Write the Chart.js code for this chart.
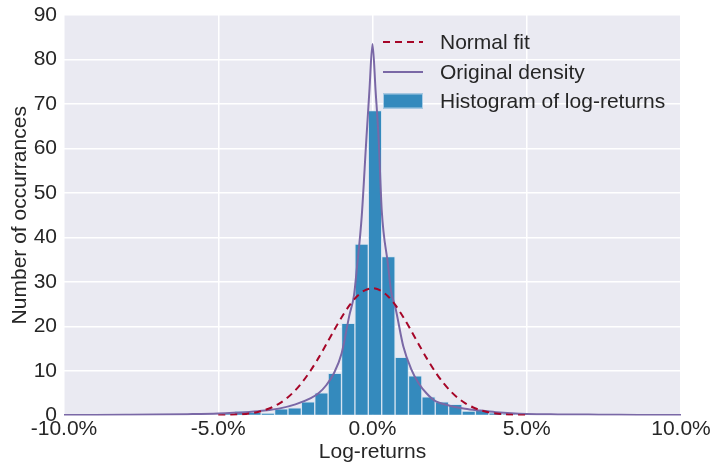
<!DOCTYPE html>
<html>
<head>
<meta charset="utf-8">
<script src="https://cdn.jsdelivr.net/npm/chart.js@4.4.1/dist/chart.umd.min.js"></script>
<style>
html,body{margin:0;padding:0;background:#ffffff;}
#wrap{width:710px;height:469px;position:relative;}
</style>
</head>
<body>
<div id="wrap"><canvas id="c" width="710" height="469"></canvas></div>
<script>
// Histogram bins (centers in %, heights)
const binCenters = [-4.693,-4.259,-3.825,-3.391,-2.957,-2.523,-2.089,-1.655,-1.221,-0.787,-0.353,0.081,0.515,0.949,1.383,1.817,2.251,2.685,3.119,3.553,3.987,4.421];
const binHeights = [0.3,1.0,0.7,0.5,1.5,1.75,3.1,5.1,9.5,20.7,38.5,68.5,35.7,13.1,8.9,4.2,3.1,2.5,1.0,1.2,0.6,0.2];

// Normal fit curve
const normalX = [-5.0,-4.75,-4.5,-4.25,-4.0,-3.75,-3.5,-3.25,-3.0,-2.75,-2.5,-2.25,-2.0,-1.75,-1.5,-1.25,-1.0,-0.75,-0.5,-0.25,0,0.25,0.5,0.75,1.0,1.25,1.5,1.75,2.0,2.25,2.5,2.75,3.0,3.25,3.5,3.75,4.0,4.25,4.5,4.75,5.0];
const normalY = [0.04,0.08,0.15,0.27,0.46,0.75,1.2,1.86,2.79,4.04,5.68,7.72,10.16,12.95,15.98,19.09,22.08,24.73,26.81,28.14,28.6,28.14,26.81,24.73,22.08,19.09,15.98,12.95,10.16,7.72,5.68,4.04,2.79,1.86,1.2,0.75,0.46,0.27,0.15,0.08,0.04];

// Original density curve
const densX = [-10,-9,-8,-7,-6,-5,-4.5,-4,-3.5,-3,-2.5,-2,-1.75,-1.5,-1.25,-1.0,-0.75,-0.6,-0.5,-0.35,-0.2,-0.1,0,0.1,0.2,0.3,0.5,0.6,0.75,1.0,1.25,1.5,1.75,2.0,2.5,3.0,3.5,4.0,4.5,5,6,7,8,9,10];
const densY = [0.1,0.12,0.15,0.2,0.3,0.45,0.6,0.8,1.1,1.6,2.5,3.9,5.0,6.8,9.5,14,22.5,27,33.5,44.7,62,73,83.5,73,62,46,34,28,24,15.5,10.5,7.2,5.0,3.4,2.2,1.5,1.1,0.75,0.5,0.35,0.25,0.2,0.15,0.12,0.1];

// Axis ticks
const xTicks = [-10,-5,0,5,10];
const yTicks = [0,10,20,30,40,50,60,70,80,90];

const seriesNames = ['Normal fit','Original density','Histogram of log-returns'];

const FONT = '"Liberation Sans", Arial, sans-serif';
const FS = 21;
const TXT = '#262626';

const bgPlugin = {
  id: 'bg',
  beforeDraw(chart) {
    const {ctx, chartArea:a} = chart;
    ctx.save();
    ctx.fillStyle = '#EAEAF2';
    ctx.fillRect(a.left, a.top, a.right - a.left, a.bottom - a.top);
    ctx.restore();
  }
};

const legendPlugin = {
  id: 'customLegend',
  afterDatasetsDraw(chart) {
    const ctx = chart.ctx;
    ctx.save();
    const x0 = 383, x1 = 423, tx = 440;
    const rows = [42, 72, 101];
    ctx.font = FS + 'px ' + FONT;
    ctx.textBaseline = 'middle';
    // Normal fit
    ctx.strokeStyle = '#A60628';
    ctx.lineWidth = 2;
    ctx.setLineDash([7,5]);
    ctx.beginPath(); ctx.moveTo(x0, rows[0]); ctx.lineTo(x1, rows[0]); ctx.stroke();
    ctx.setLineDash([]);
    // Original density
    ctx.strokeStyle = '#7A68A6';
    ctx.beginPath(); ctx.moveTo(x0, rows[1]); ctx.lineTo(x1, rows[1]); ctx.stroke();
    // Histogram
    ctx.fillStyle = '#348ABD';
    ctx.fillRect(x0, rows[2] - 7.5, x1 - x0, 15);
    ctx.strokeStyle = 'rgba(200,220,240,0.8)';
    ctx.lineWidth = 1;
    ctx.strokeRect(x0 + 0.5, rows[2] - 7, x1 - x0 - 1, 14);
    ctx.fillStyle = TXT;
    for (let i = 0; i < 3; i++) ctx.fillText(seriesNames[i], tx, rows[i] + 1);
    ctx.restore();
  }
};

new Chart(document.getElementById('c'), {
  type: 'bar',
  data: {
    datasets: [
      {
        type: 'line',
        label: seriesNames[0],
        data: normalX.map((x, i) => ({x, y: normalY[i]})),
        borderColor: '#A60628',
        borderWidth: 2,
        borderDash: [7,5],
        pointRadius: 0,
        tension: 0.3,
        order: 1
      },
      {
        type: 'line',
        label: seriesNames[1],
        data: densX.map((x, i) => ({x, y: densY[i]})),
        borderColor: '#7A68A6',
        borderWidth: 2,
        pointRadius: 0,
        cubicInterpolationMode: 'monotone',
        order: 2
      },
      {
        type: 'bar',
        label: seriesNames[2],
        data: binCenters.map((x, i) => ({x, y: binHeights[i]})),
        backgroundColor: '#348ABD',
        borderColor: 'rgba(210,225,240,0.75)',
        borderWidth: 1,
        barPercentage: 1,
        categoryPercentage: 1,
        order: 3
      }
    ]
  },
  options: {
    responsive: false,
    animation: false,
    layout: { padding: { top: 15, right: 29, left: 0, bottom: 0 } },
    plugins: { legend: { display: false }, tooltip: { enabled: false } },
    scales: {
      x: {
        type: 'linear',
        min: -10, max: 10,
        offset: false,
        afterBuildTicks(scale) { scale.ticks = xTicks.map(v => ({value: v})); },
        afterFit(scale) { scale.height = 53.5; scale.paddingLeft = 0; scale.paddingRight = 0; },
        ticks: {
          callback: v => v.toFixed(1) + '%',
          font: { family: FONT, size: FS },
          color: TXT,
          padding: 1,
          maxRotation: 0,
          autoSkip: false
        },
        grid: { color: '#FFFFFF', lineWidth: 1.5, drawTicks: false, offset: false },
        border: { display: false },
        title: {
          display: true,
          text: 'Log-returns',
          font: { family: FONT, size: FS },
          color: TXT,
          padding: { top: 0, bottom: 4 }
        }
      },
      y: {
        min: 0, max: 90,
        afterBuildTicks(scale) { scale.ticks = yTicks.map(v => ({value: v})); },
        afterFit(scale) { scale.width = 64; scale.paddingTop = 0; scale.paddingBottom = 0; },
        ticks: {
          font: { family: FONT, size: FS },
          color: TXT,
          padding: 7
        },
        grid: { color: '#FFFFFF', lineWidth: 1.5, drawTicks: false, offset: false },
        border: { display: false },
        title: {
          display: true,
          text: 'Number of occurrances',
          font: { family: FONT, size: FS },
          color: TXT,
          padding: { top: 8, bottom: 0 }
        }
      }
    }
  },
  plugins: [bgPlugin, legendPlugin]
});
</script>
</body>
</html>
